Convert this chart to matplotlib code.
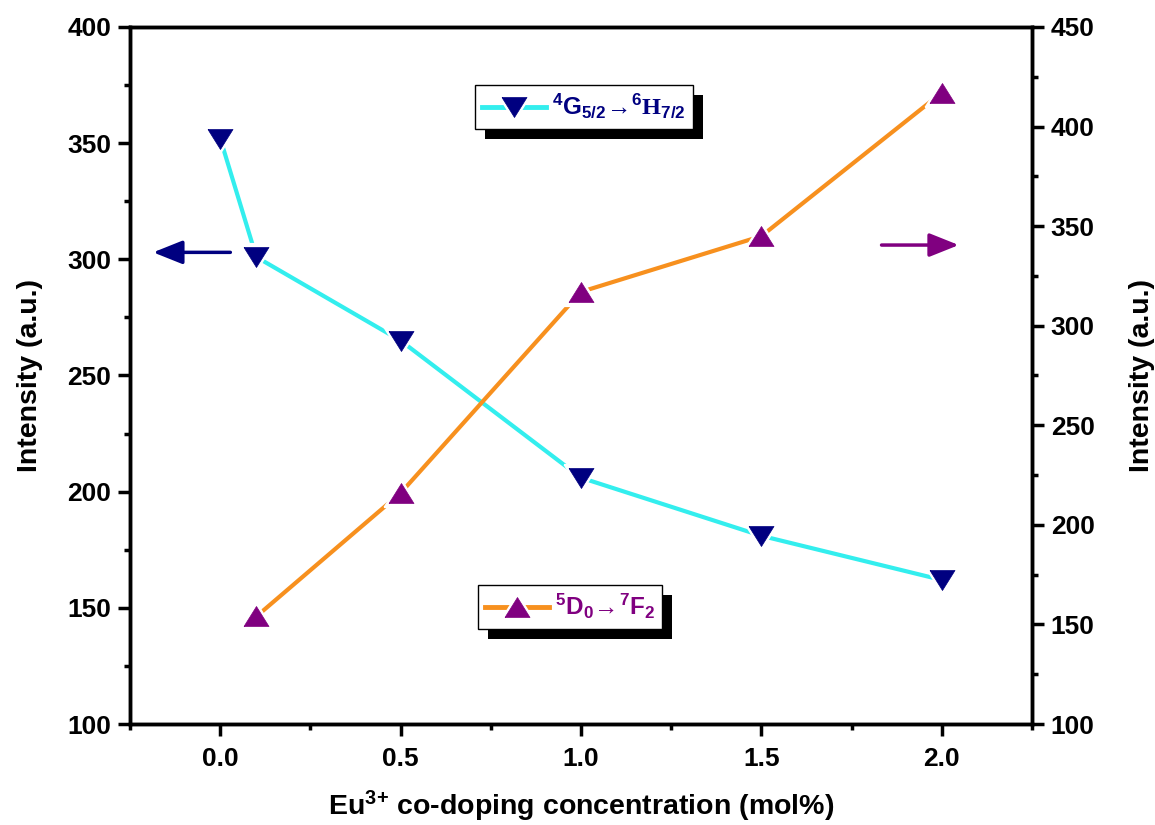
import matplotlib
matplotlib.use('Agg')
import matplotlib.pyplot as plt
import matplotlib.patheffects as pe
from matplotlib.lines import Line2D
from matplotlib.ticker import MultipleLocator
from matplotlib.legend_handler import HandlerTuple

# ---------------- data ----------------
conc_g = [0.0, 0.1, 0.5, 1.0, 1.5, 2.0]          # mol%
int_g = [352, 301, 265, 206, 181, 162]            # 4G5/2 -> 6H7/2 (left axis)
conc_d = [0.1, 0.5, 1.0, 1.5, 2.0]
int_d = [154, 216, 317, 345, 417]                 # 5D0 -> 7F2 (right axis)
xtick_vals = [0.0, 0.5, 1.0, 1.5, 2.0]
xtick_labels = ['0.0', '0.5', '1.0', '1.5', '2.0']
ytick_left = [100, 150, 200, 250, 300, 350, 400]
ytick_right = [100, 150, 200, 250, 300, 350, 400, 450]
label_g = r'${}^{4}\mathrm{G}_{5/2}\!\rightarrow\!{}^{6}\mathsf{H}_{7/2}$'
label_d = r'${}^{5}\mathrm{D}_{0}\!\rightarrow\!{}^{7}\mathrm{F}_{2}$'
xlabel = r'Eu$^{3\!+}\,$co-doping concentration (mol%)'
ylabel = 'Intensity (a.u.)'

# ---------------- style ----------------
plt.rcParams['font.family'] = ['Liberation Sans', 'DejaVu Sans']
plt.rcParams['font.weight'] = 'bold'
plt.rcParams['mathtext.fontset'] = 'custom'
plt.rcParams['mathtext.rm'] = 'Liberation Sans:bold'
plt.rcParams['mathtext.bf'] = 'Liberation Sans:bold'
plt.rcParams['mathtext.it'] = 'Liberation Sans:bold:italic'
plt.rcParams['mathtext.sf'] = 'Liberation Serif:bold'

FS_TICK = 19
FS_LAB = 20.5
FS_LEG = 17.5
CYAN = '#33EEEE'
ORANGE = '#F7901E'
NAVY = '#000080'
PURPLE = '#800080'

tri_down = [(-1, 0.8), (1, 0.8), (0, -0.8), (-1, 0.8)]
tri_up = [(-1, -0.8), (1, -0.8), (0, 0.8), (-1, -0.8)]
MS = 18
MS_GAP = 25

fig = plt.figure(figsize=(11.55, 8.25), dpi=100)
ax = fig.add_axes([0.1126, 0.1224, 0.7809, 0.8449])
ax2 = ax.twinx()

# left series
ax.plot(conc_g, int_g, color=CYAN, lw=3, zorder=2, solid_capstyle='butt')
ax.plot(conc_g, int_g, ls='none', marker=tri_down, ms=MS_GAP, mfc='white', mec='white', zorder=3)
ax.plot(conc_g, int_g, ls='none', marker=tri_down, ms=MS, mfc=NAVY, mec=NAVY, mew=0.5, zorder=4)

# right series
ax2.plot(conc_d, int_d, color=ORANGE, lw=3, zorder=2, solid_capstyle='butt')
ax2.plot(conc_d, int_d, ls='none', marker=tri_up, ms=MS_GAP, mfc='white', mec='white', zorder=3)
ax2.plot(conc_d, int_d, ls='none', marker=tri_up, ms=MS, mfc=PURPLE, mec=PURPLE, mew=0.5, zorder=4)

# axes limits & ticks
ax.set_xlim(-0.25, 2.25)
ax.set_ylim(100, 400)
ax2.set_ylim(100, 450)
ax.set_xticks(xtick_vals)
ax.set_xticklabels(xtick_labels)
ax.xaxis.set_minor_locator(MultipleLocator(0.25))
ax.set_yticks(ytick_left)
ax.yaxis.set_minor_locator(MultipleLocator(25))
ax2.set_yticks(ytick_right)
ax2.yaxis.set_minor_locator(MultipleLocator(25))

for a in (ax, ax2):
    for s in a.spines.values():
        s.set_linewidth(2.5)
    a.tick_params(which='major', length=8.5, width=2.5, labelsize=FS_TICK, direction='out')
    a.tick_params(which='minor', length=4, width=2.5, direction='out')
ax.tick_params(axis='x', which='both', top=False, pad=8)
ax.tick_params(axis='y', which='both', left=True, right=False, pad=5)
ax2.tick_params(axis='y', which='both', right=True, left=False, pad=5)
for lab in ax.get_xticklabels() + ax.get_yticklabels() + ax2.get_yticklabels():
    lab.set_fontweight('bold')

ax.set_xlabel(xlabel, fontsize=FS_LAB, fontweight='bold')
ax.xaxis.label.set_verticalalignment('baseline')
ax.xaxis.set_label_coords(0.5, -0.1315)
ax.set_ylabel(ylabel, fontsize=FS_LAB, fontweight='bold')
ax.yaxis.set_label_coords(-0.0965, 0.5)
ax2.set_ylabel(ylabel, fontsize=FS_LAB, fontweight='bold', rotation=90)
ax2.yaxis.set_label_coords(1.1075, 0.5)

# arrows indicating axes
ax.annotate('', xy=(-0.186, 303), xytext=(0.028, 303),
            arrowprops=dict(arrowstyle='-|>,head_length=1.0,head_width=0.4',
                            color=NAVY, lw=2.5, mutation_scale=18, shrinkA=0, shrinkB=0))
ax2.annotate('', xy=(2.047, 340.5), xytext=(1.833, 340.5),
             arrowprops=dict(arrowstyle='-|>,head_length=1.0,head_width=0.4',
                             color=PURPLE, lw=2.5, mutation_scale=18, shrinkA=0, shrinkB=0))

# legends
def make_handle(col, mk, mcol):
    l = Line2D([], [], color=col, lw=3.5)
    w = Line2D([], [], ls='none', marker=mk, ms=MS_GAP, mfc='white', mec='white')
    m = Line2D([], [], ls='none', marker=mk, ms=MS, mfc=mcol, mec=mcol, mew=0.5)
    return (l, w, m)

def style_leg(leg, tcol):
    fr = leg.get_frame()
    fr.set_edgecolor('black')
    fr.set_linewidth(1.0)
    fr.set_path_effects([pe.SimplePatchShadow(offset=(7.2, -7.2), shadow_rgbFace='black', alpha=1.0),
                         pe.Normal()])
    for t in leg.get_texts():
        t.set_color(tcol)

leg1 = ax2.legend([make_handle(CYAN, tri_down, NAVY)], [label_g],
                  handler_map={tuple: HandlerTuple(ndivide=1, pad=0)},
                  loc='upper left', bbox_to_anchor=(0.3825, 0.9168), fontsize=FS_LEG,
                  fancybox=False, framealpha=1, handlelength=2.6, handletextpad=0.25,
                  borderpad=0.3, borderaxespad=0)
style_leg(leg1, NAVY)
ax2.add_artist(leg1)
leg2 = ax2.legend([make_handle(ORANGE, tri_up, PURPLE)], [label_d],
                  handler_map={tuple: HandlerTuple(ndivide=1, pad=0)},
                  loc='upper left', bbox_to_anchor=(0.3858, 0.1994), fontsize=FS_LEG,
                  fancybox=False, framealpha=1, handlelength=2.6, handletextpad=0.25,
                  borderpad=0.3, borderaxespad=0)
style_leg(leg2, PURPLE)

fig.savefig('out.png', dpi=100)
